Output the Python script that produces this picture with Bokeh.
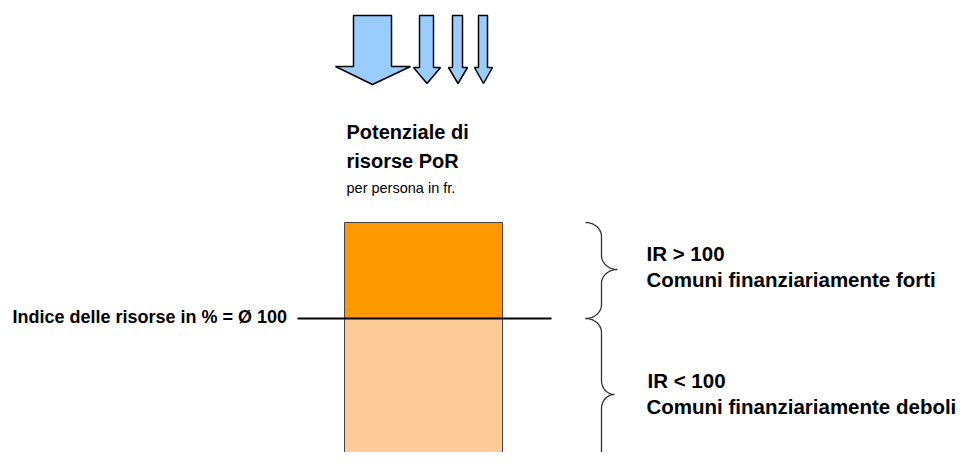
import numpy as np
from bokeh.plotting import figure
from bokeh.models import Range1d
from bokeh.core.properties import value
from bokeh.embed import file_html
from bokeh.resources import INLINE

# ---- diagram values (in page coordinates, y grows downward) ----
bar_left = [344, 344]
bar_right = [502, 502]
bar_top = [222, 318]          # above index (strong), below index (weak)
bar_bottom = [318, 470]
bar_colors = ["#FF9900", "#FFCC99"]

index_line_y = 318
index_line_x = [297, 551]

# arrows: shaft left/right, head left/right, tip x
arrow_shaft_l = [353, 419, 452, 478]
arrow_shaft_r = [391, 433, 462, 487]
arrow_head_l = [335, 413, 448, 474]
arrow_head_r = [410, 440, 467, 492]
arrow_tip_x = [372, 426.5, 457.5, 483]
arrow_top = [15, 15, 15, 15]
arrow_shoulder = [66, 67, 67, 67]
arrow_tip_y = [84, 83, 83, 83]

# braces: top, tip, bottom
brace_top = [222, 318]
brace_tip = [269, 394]
brace_bottom = [318, 474]
brace_tip_x = [617, 614]

title_lines = ["Potenziale di", "risorse PoR"]
subtitle = "per persona in fr."
index_label = "Indice delle risorse in % = Ø 100"
group_labels = [["IR > 100", "Comuni finanziariamente forti"],
                ["IR < 100", "Comuni finanziariamente deboli"]]

FONT = value("Liberation Sans")

p = figure(width=958, height=452, output_backend="svg", toolbar_location=None,
           x_axis_location=None, y_axis_location=None, min_border=0,
           x_range=Range1d(0, 958), y_range=Range1d(452, 0))
p.grid.visible = False
p.outline_line_color = None
p.background_fill_color = "white"
p.border_fill_color = "white"

# bar
p.quad(left=bar_left, right=bar_right, top=bar_top, bottom=bar_bottom,
       fill_color=bar_colors, line_color="#444444", line_width=1)

# index line
p.line(x=index_line_x, y=[index_line_y, index_line_y], line_color="black", line_width=2)

# arrows
xs, ys = [], []
for i in range(len(arrow_tip_x)):
    xs.append([arrow_shaft_l[i], arrow_shaft_r[i], arrow_shaft_r[i], arrow_head_r[i],
               arrow_tip_x[i], arrow_head_l[i], arrow_shaft_l[i], arrow_shaft_l[i]])
    ys.append([arrow_top[i], arrow_top[i], arrow_shoulder[i], arrow_shoulder[i],
               arrow_tip_y[i], arrow_shoulder[i], arrow_shoulder[i], arrow_top[i]])
p.patches(xs=xs, ys=ys, fill_color="#99CCFF", line_color="black", line_width=1.5)


def brace(x0, xm, xt, yt, yc, yb, r=14, n=20):
    t = np.linspace(0, np.pi / 2, n)
    a = xm - x0
    b = xt - xm
    px, py = [], []
    px += list(x0 + a * np.sin(t)); py += list(yt + r * (1 - np.cos(t)))
    px += list(xm + b * (1 - np.cos(t))); py += list(yc - r + r * np.sin(t))
    px += list(xm + b * (1 - np.sin(t))); py += list(yc + r * (1 - np.cos(t)))
    px += list(xm - a * (1 - np.cos(t))); py += list(yb - r + r * np.sin(t))
    return px, py


bx, by = [], []
for i in range(2):
    x_, y_ = brace(585, 601, brace_tip_x[i], brace_top[i], brace_tip[i], brace_bottom[i])
    bx.append(x_); by.append(y_)
p.multi_line(xs=bx, ys=by, line_color="#333333", line_width=1.3)

# texts
p.text(x=[346, 346], y=[131, 160], text=title_lines, text_font=FONT,
       text_font_style="bold", text_font_size="20px", text_color="black",
       text_baseline="alphabetic")
p.text(x=[346], y=[187], text=[subtitle], text_font=FONT, text_font_size="14.5px",
       text_color="black", text_baseline="alphabetic")
p.text(x=[12], y=[316], text=[index_label], text_font=FONT, text_font_style="bold",
       text_font_size="18px", text_color="black", text_baseline="alphabetic")
p.text(x=[646, 646], y=[253, 279], text=group_labels[0], text_font=FONT,
       text_font_style="bold", text_font_size="20.5px", text_color="black",
       text_baseline="alphabetic")
p.text(x=[647, 646], y=[380, 406], text=group_labels[1], text_font=FONT,
       text_font_style="bold", text_font_size="20.5px", text_color="black",
       text_baseline="alphabetic")

open("out.html", "w").write(file_html(p, INLINE))
